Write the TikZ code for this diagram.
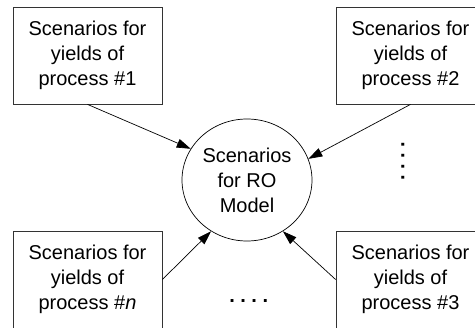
\documentclass[tikz,border=0pt]{standalone}
\usepackage{fontspec}
\setmainfont{Liberation Sans}
\usetikzlibrary{shapes.geometric,arrows.meta}
\begin{document}
\begin{tikzpicture}[x=1pt,y=-1pt,
  every node/.style={font=\fontsize{20}{25}\selectfont},
  box/.style={draw=black!80, line width=0.8pt, minimum width=149pt, minimum height=97pt, inner sep=0pt, align=center},
  hub/.style={draw=black, line width=0.7pt, ellipse, minimum width=130pt, minimum height=122pt, inner sep=0pt, align=center},
  link/.style={draw=black, line width=0.7pt, -{Triangle[length=14pt,width=9pt]}},
  dots/.style={inner sep=0pt, font=\fontsize{20}{25}\selectfont\bfseries}
]
\useasboundingbox (0,0) rectangle (475,328);
\node[box] (b1) at (87.5,55.5) {Scenarios for\\yields of\\process \#1};
\node[box] (b2) at (410.5,55.5) {Scenarios for\\yields of\\process \#2};
\node[box] (bn) at (87.5,279.5) {Scenarios for\\yields of\\process \#\textit{n}};
\node[box] (b3) at (410.5,279.5) {Scenarios for\\yields of\\process \#3};
\node[hub] (c) at (247,180) {Scenarios\\for RO\\Model};
\node[dots] (hd) at (248.7,301.5) {.\ .\ .\ .};
\node[dots, rotate=90] (vd) at (403,161.5) {.\ .\ .\ .};
\draw[link] (b1.south) -- (c.151);
\draw[link] (b2.south) -- (c.19);
\draw[link] (bn.east) -- (c.235);
\draw[link] (b3.west) -- (c.305);
\end{tikzpicture}
\end{document}
